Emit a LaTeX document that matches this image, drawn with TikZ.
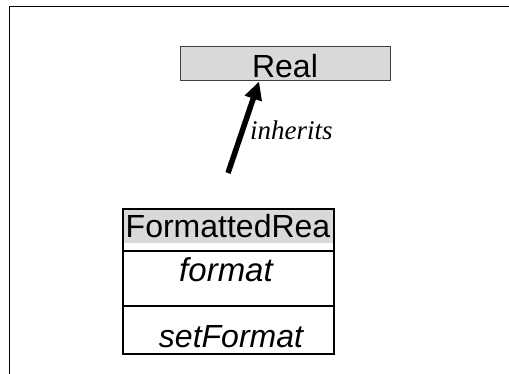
\documentclass[tikz,border=0pt]{standalone}
\usepackage{fontspec}
\setmainfont{Liberation Serif}
\setsansfont{Liberation Sans}
\usetikzlibrary{arrows.meta}
\definecolor{boxgray}{RGB}{217,217,217}

\begin{document}
\begin{tikzpicture}[x=1pt,y=-1pt,
  classtext/.style={font=\sffamily\fontsize{32}{38}\selectfont, inner sep=0pt},
  realbox/.style={classtext, draw=black!75, line width=1pt, fill=boxgray,
    minimum width=210pt, minimum height=34pt, text height=28pt, text depth=0pt},
  inh/.style={line width=5.5pt, -{Triangle[length=18pt,width=17pt]}},
  sepline/.style={line width=1.8pt}]
\useasboundingbox (0,0) rectangle (509,374);
% Frame
\draw [line width=1pt] (9,374) -- (9,7) -- (509,7);

% Superclass
\node [realbox] (real) at (285,64) {Real};

% Inheritance arrow
\coordinate (tail) at (228,173);
\draw [inh] (tail) -- (real.214);
\node [anchor=base west, inner sep=0pt, font=\itshape\fontsize{27}{30}\selectfont] (inh) at (250,140) {inherits};

% Class box
\fill [boxgray] (123,209) rectangle (334,243);
\draw [line width=1.3pt] (123,209) rectangle (334,354);
\node [classtext, anchor=base] (cls) at (228,238) {FormattedRea};
\draw [sepline] (123,251) -- (334,251);
\node [classtext, anchor=base, font=\sffamily\itshape\fontsize{33}{38}\selectfont] (attr) at (226,282) {format};
\draw [sepline] (123,306) -- (334,306);
\node [classtext, anchor=base, font=\sffamily\itshape\fontsize{32}{38}\selectfont] (op) at (231,347) {setFormat};

\end{tikzpicture}
\end{document}
